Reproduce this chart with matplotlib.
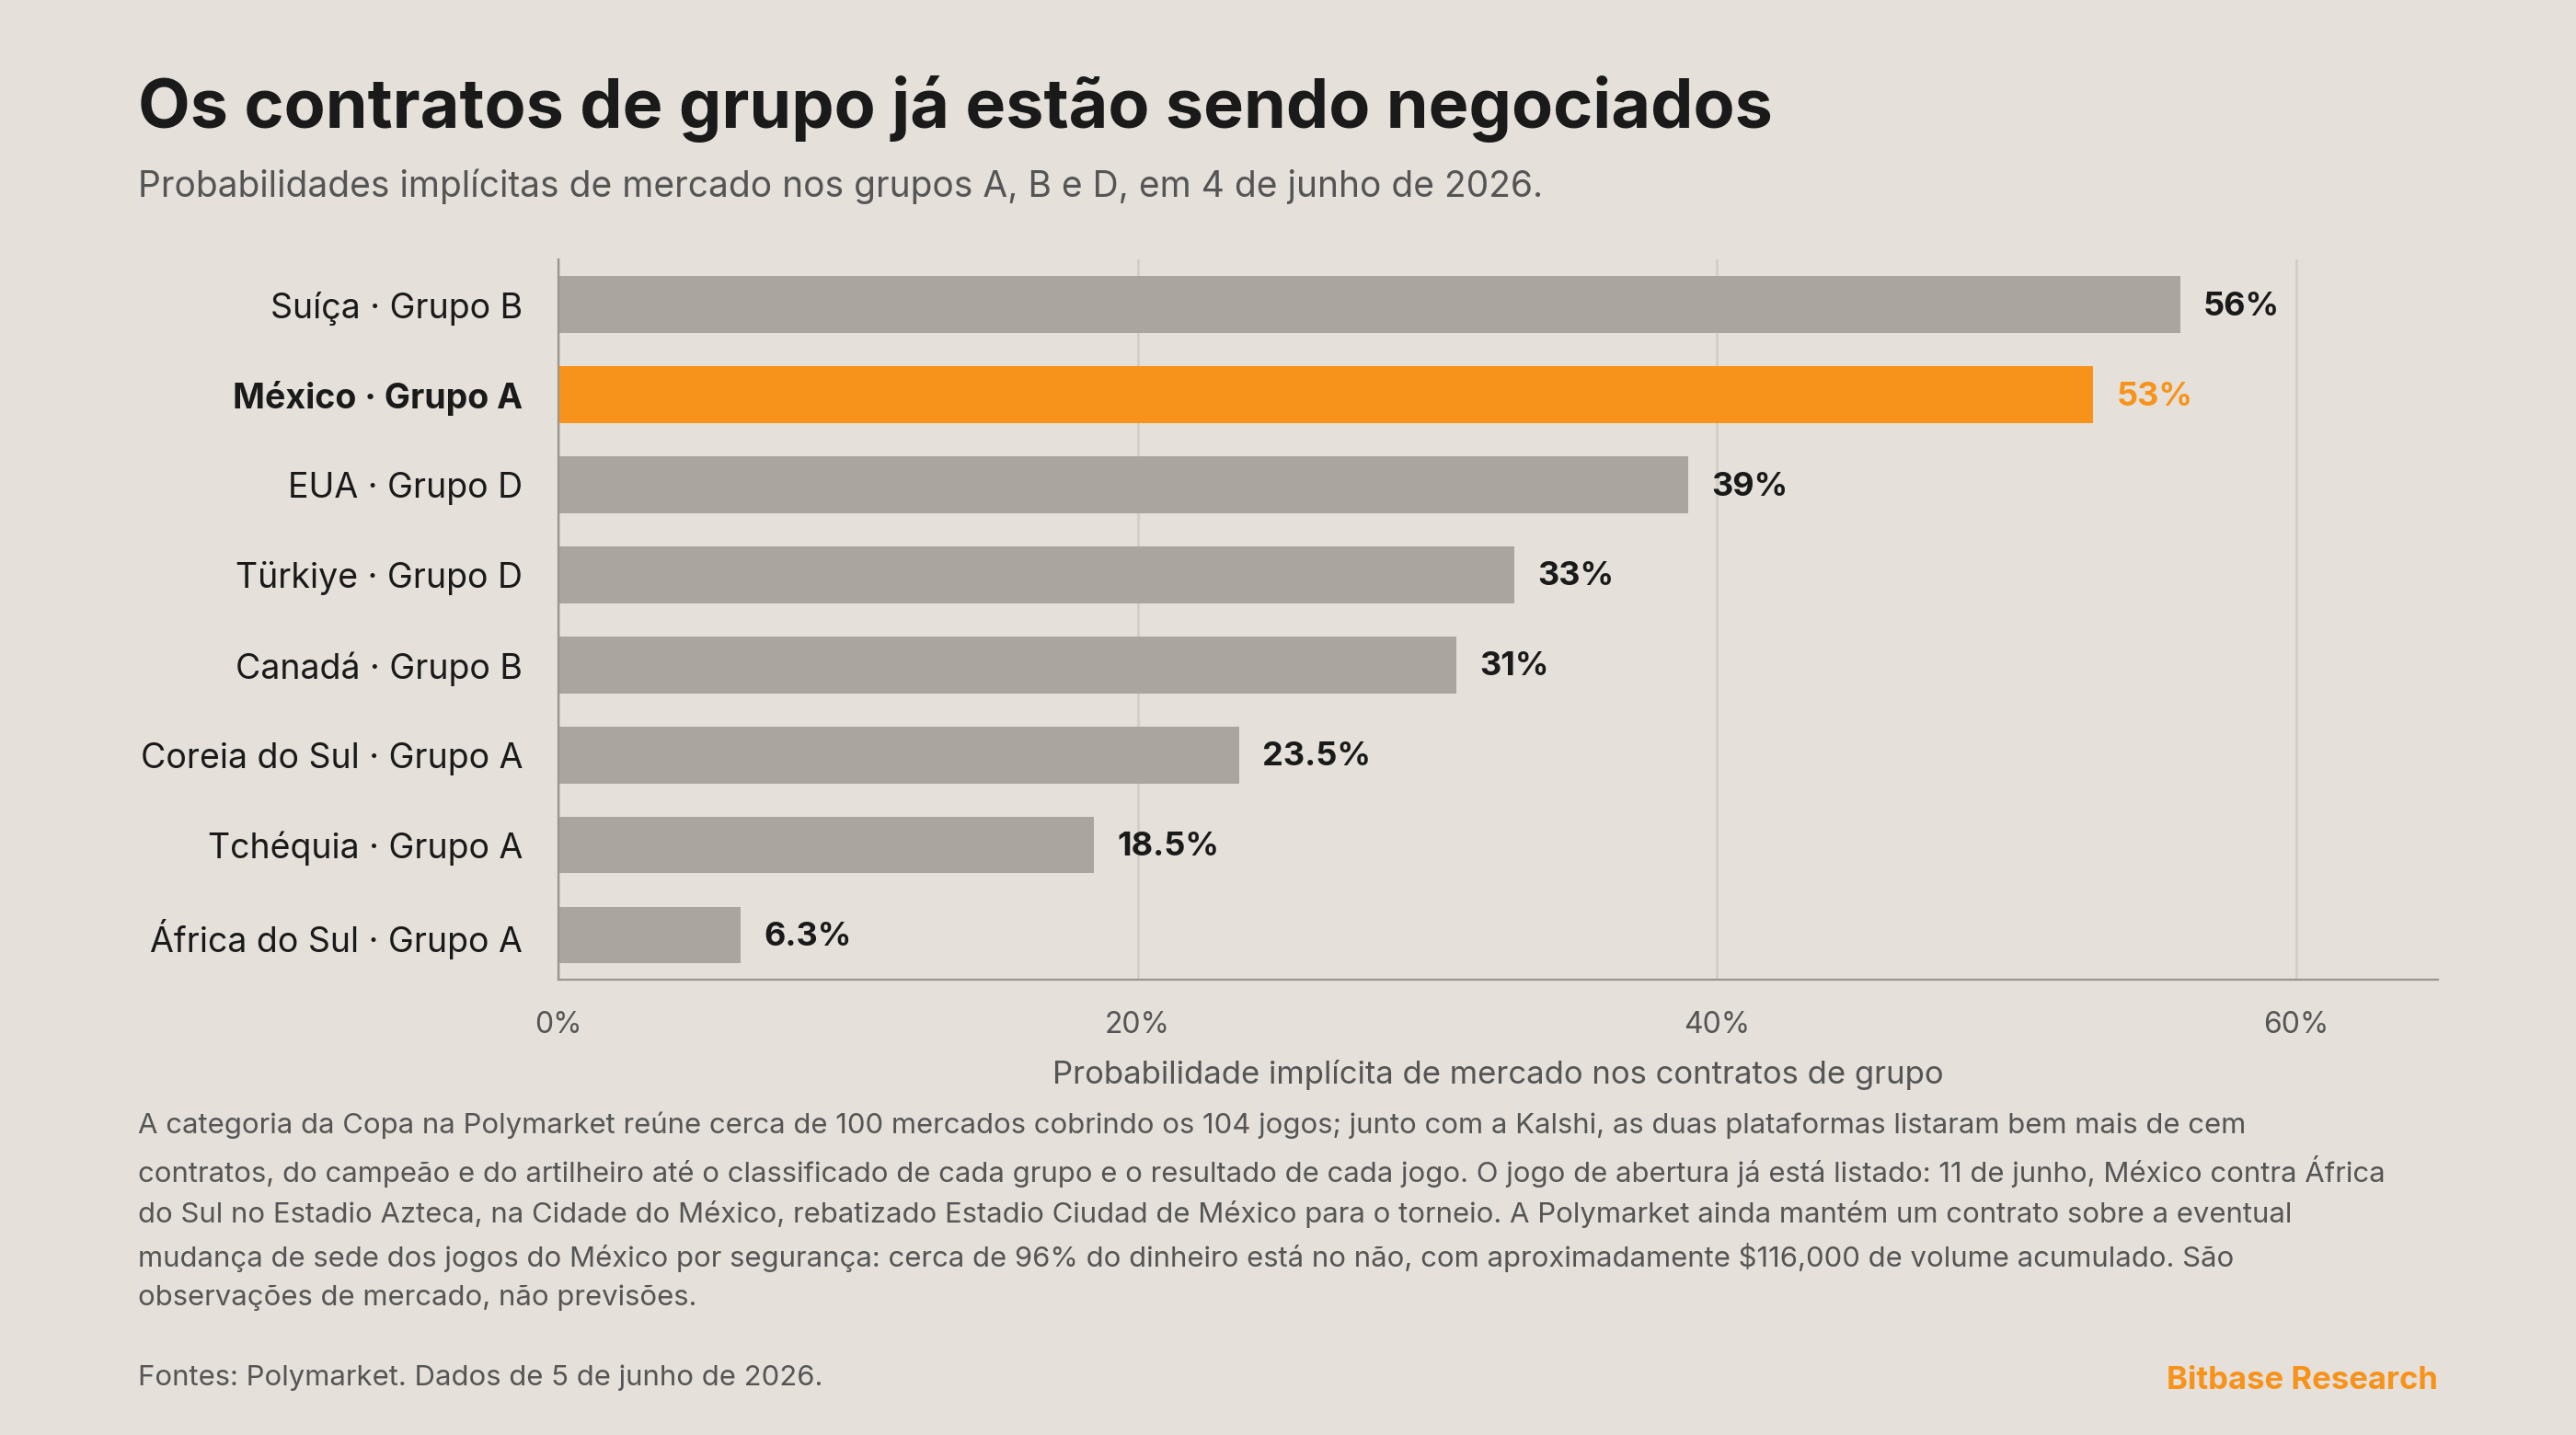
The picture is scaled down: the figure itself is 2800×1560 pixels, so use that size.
import matplotlib.pyplot as plt

plt.rcParams['font.family'] = ['Inter', 'DejaVu Sans']

labels = ['Suíça · Grupo B', 'México · Grupo A', 'EUA · Grupo D', 'Türkiye · Grupo D',
          'Canadá · Grupo B', 'Coreia do Sul · Grupo A', 'Tchéquia · Grupo A', 'África do Sul · Grupo A']
values = [56, 53, 39, 33, 31, 23.5, 18.5, 6.3]
value_text = ['56%', '53%', '39%', '33%', '31%', '23.5%', '18.5%', '6.3%']
highlight = 'México · Grupo A'

BG = '#E5E0DA'
GREY = '#ABA59F'
ORANGE = '#F7931A'
DARK = '#1A1A1A'
MID = '#555555'

fig = plt.figure(figsize=(14, 7.8), dpi=200, facecolor=BG)
ax = fig.add_axes([0.2168, 0.317, 0.7296, 0.502], facecolor=BG)

ys = list(range(len(labels)))[::-1]
colors = [ORANGE if l == highlight else GREY for l in labels]
ax.barh(ys, values, height=0.63, color=colors, zorder=2)
for y, v, t, l in zip(ys, values, value_text, labels):
    ax.text(v + 0.8, y - 0.02, t, va='center', ha='left', fontsize=13, fontweight='bold',
            color=ORANGE if l == highlight else DARK)

ax.set_xlim(0, 64.9)
ax.set_ylim(-0.5, len(labels) - 0.5)
ax.set_yticks(ys)
ax.set_yticklabels(labels, fontsize=13.5, color=DARK)
for tl, l in zip(ax.get_yticklabels(), labels):
    if l == highlight:
        tl.set_fontweight('bold')
ax.set_xticks([0, 20, 40, 60])
ax.set_xticklabels(['0%', '20%', '40%', '60%'], fontsize=11.5, color=MID)
ax.tick_params(length=0, pad=12)
ax.tick_params(axis='y', pad=14)
ax.grid(axis='x', color='#D3CEC8', linewidth=1, zorder=0)
for s in ['top', 'right']:
    ax.spines[s].set_visible(False)
ax.spines['left'].set_color('#9A958F')
ax.spines['bottom'].set_color('#9A958F')
ax.set_xlabel('Probabilidade implícita de mercado nos contratos de grupo', fontsize=12.5,
              color=MID, labelpad=8)

fig.text(0.0536, 0.924, 'Os contratos de grupo já estão sendo negociados', fontsize=26.5,
         fontweight='bold', color=DARK, va='center')
fig.text(0.0536, 0.870, 'Probabilidades implícitas de mercado nos grupos A, B e D, em 4 de junho de 2026.',
         fontsize=14, color=MID, va='center')

note = ('A categoria da Copa na Polymarket reúne cerca de 100 mercados cobrindo os 104 jogos; junto com a Kalshi, as duas plataformas listaram bem mais de cem\n'
        'contratos, do campeão e do artilheiro até o classificado de cada grupo e o resultado de cada jogo. O jogo de abertura já está listado: 11 de junho, México contra África\n'
        'do Sul no Estadio Azteca, na Cidade do México, rebatizado Estadio Ciudad de México para o torneio. A Polymarket ainda mantém um contrato sobre a eventual\n'
        'mudança de sede dos jogos do México por segurança: cerca de 96% do dinheiro está no não, com aproximadamente $116,000 de volume acumulado. São\n'
        'observações de mercado, não previsões.')
fig.text(0.0536, 0.225, note, fontsize=11.2, color=MID, va='top', linespacing=1.6)
fig.text(0.0536, 0.040, 'Fontes: Polymarket. Dados de 5 de junho de 2026.', fontsize=11.2, color=MID, va='center')
fig.text(0.9464, 0.038, 'Bitbase Research', fontsize=12.5, fontweight='bold', color=ORANGE,
         va='center', ha='right')

fig.savefig('out.png', dpi=200, facecolor=BG)
